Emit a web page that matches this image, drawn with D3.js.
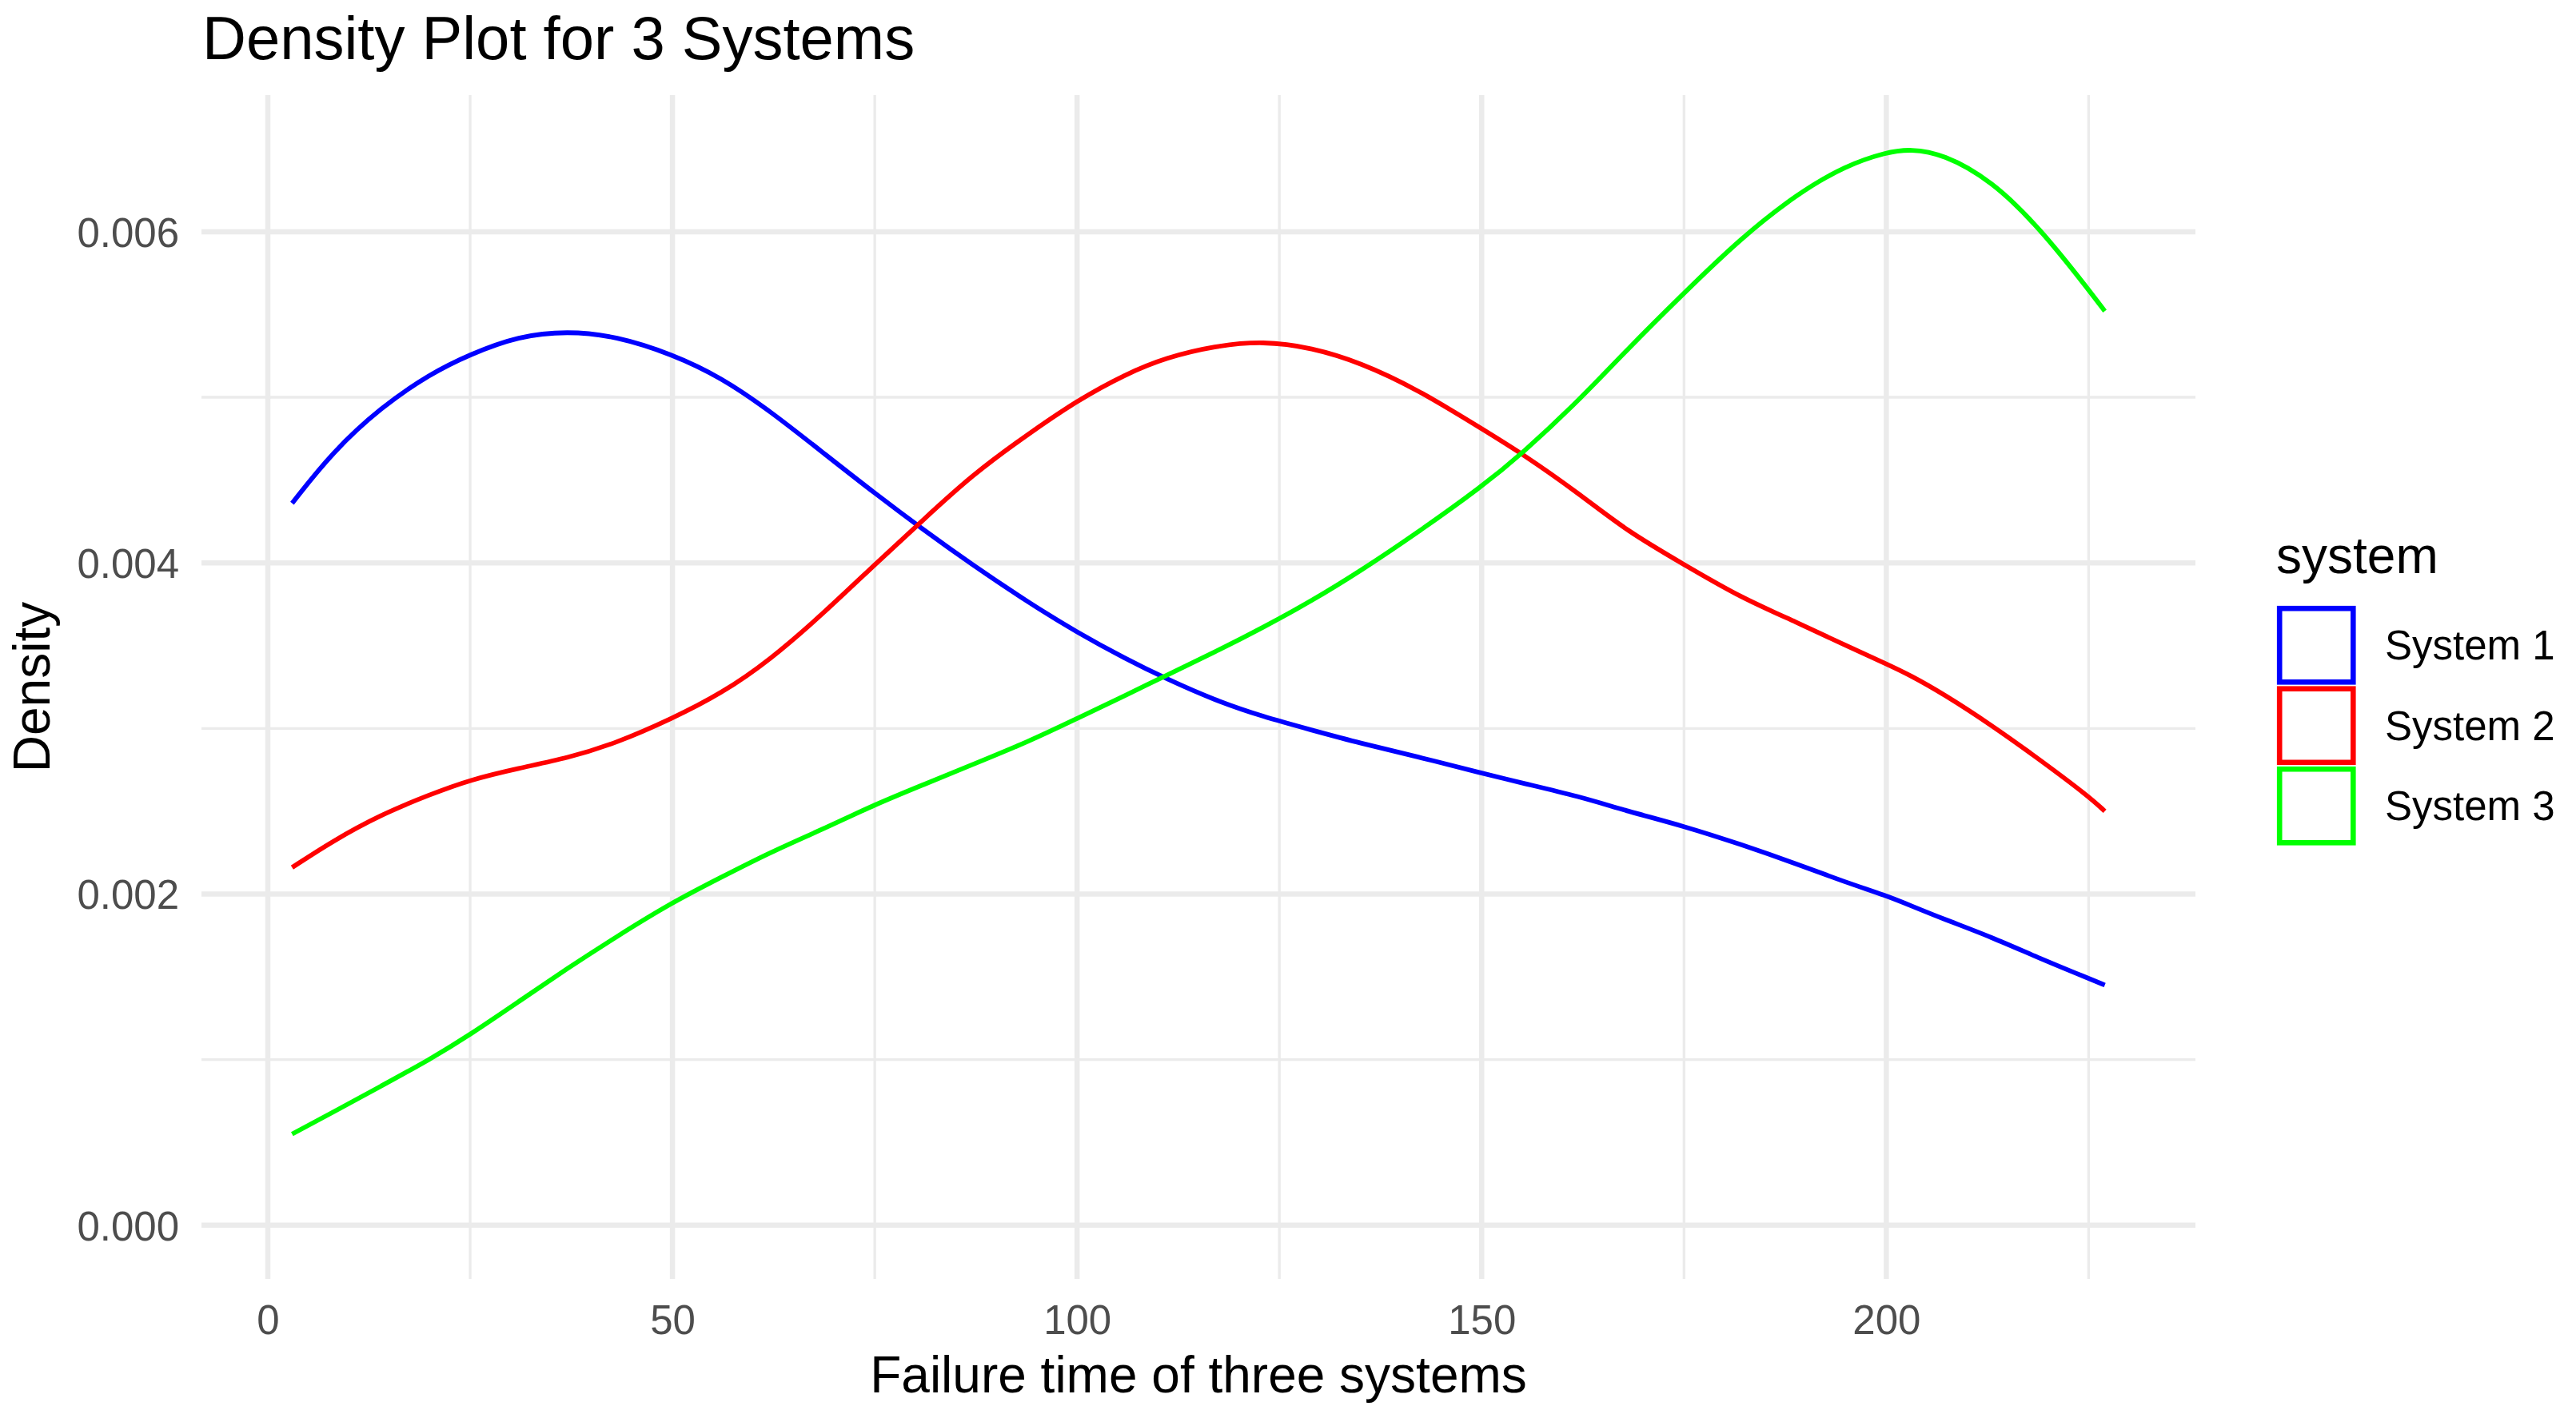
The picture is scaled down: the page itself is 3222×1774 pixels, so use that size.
<!DOCTYPE html>
<html>
<head>
<meta charset="utf-8">
<script src="https://cdn.jsdelivr.net/npm/d3@7"></script>
<style>
  html, body { margin: 0; padding: 0; background: #fff; }
  svg text { font-family: "Liberation Sans", Arial, Helvetica, sans-serif; }
</style>
</head>
<body>
<svg id="chart" width="3222" height="1774"></svg>
<script>
var failureTimes = [3, 8, 14, 20, 25, 31, 37, 43, 50, 56, 62, 69, 75, 81, 87, 94, 100,
    106, 111, 117, 123, 129, 135, 142, 150, 155, 162, 168, 175, 182, 189, 195, 200,
    203, 207, 213, 219, 225, 227];

var system1 = [0.00436, 0.00467, 0.00494, 0.00514, 0.00526, 0.00537, 0.00540, 0.00537,
    0.00526, 0.00512, 0.00492, 0.00465, 0.00442, 0.00420, 0.00399, 0.00376, 0.00358,
    0.00342, 0.00330, 0.00317, 0.00307, 0.00299, 0.00291, 0.00283, 0.00273, 0.00267,
    0.00259, 0.00250, 0.00241, 0.00230, 0.00218, 0.00207, 0.00199, 0.00193, 0.00185,
    0.00174, 0.00161, 0.00149, 0.00145];

var system2 = [0.00216, 0.00232, 0.00248, 0.00260, 0.00269, 0.00276, 0.00282, 0.00291,
    0.00306, 0.00321, 0.00341, 0.00371, 0.00399, 0.00426, 0.00453, 0.00478, 0.00498,
    0.00514, 0.00524, 0.00531, 0.00534, 0.00530, 0.00521, 0.00505, 0.00481, 0.00466,
    0.00442, 0.00419, 0.00399, 0.00379, 0.00364, 0.00350, 0.00339, 0.00332, 0.00321,
    0.00302, 0.00281, 0.00259, 0.00250];

var system3 = [0.00055, 0.00068, 0.00084, 0.00100, 0.00115, 0.00135, 0.00155, 0.00174,
    0.00195, 0.00210, 0.00225, 0.00240, 0.00254, 0.00266, 0.00278, 0.00292, 0.00306,
    0.00320, 0.00332, 0.00346, 0.00361, 0.00377, 0.00395, 0.00418, 0.00446, 0.00466,
    0.00498, 0.00529, 0.00563, 0.00596, 0.00623, 0.00640, 0.00648, 0.00650, 0.00647,
    0.00631, 0.00602, 0.00565, 0.00552];

var systemNames = ["System 1", "System 2", "System 3"];
var systemColors = ["#0000ff", "#ff0000", "#00ff00"];

var xMajorTicks = [0, 50, 100, 150, 200];
var xMinorTicks = [25, 75, 125, 175, 225];
var yMajorTicks = [0, 0.002, 0.004, 0.006];
var yMinorTicks = [0.001, 0.003, 0.005];

var titleText = "Density Plot for 3 Systems";
var xTitle = "Failure time of three systems";
var yTitle = "Density";
var legendTitle = "system";

window.onload = function(){
    var svg = d3.select("#chart");

    // Panel bounds in pixels.
    var panel = { left: 252, right: 2746, top: 119, bottom: 1600 };

    // ggplot style 5% expansion of the data ranges.
    var xExt = d3.extent(failureTimes);
    var xPad = (xExt[1] - xExt[0]) * 0.05;
    var yMax = d3.max(system1.concat(system2, system3));
    var yPad = yMax * 0.05;

    var x = d3.scaleLinear()
        .domain([xExt[0] - xPad, xExt[1] + xPad])
        .range([panel.left, panel.right]);
    var y = d3.scaleLinear()
        .domain([0 - yPad, yMax + yPad])
        .range([panel.bottom, panel.top]);

    var grid = svg.append("g").attr("class", "grid");

    // Minor grid lines first, then the major ones on top.
    grid.selectAll("line.xminor")
        .data(xMinorTicks)
        .enter().append("line")
        .attr("x1", function(d){ return x(d); })
        .attr("x2", function(d){ return x(d); })
        .attr("y1", panel.top).attr("y2", panel.bottom)
        .style("stroke", "#ebebeb").style("stroke-width", 3.3);

    grid.selectAll("line.yminor")
        .data(yMinorTicks)
        .enter().append("line")
        .attr("y1", function(d){ return y(d); })
        .attr("y2", function(d){ return y(d); })
        .attr("x1", panel.left).attr("x2", panel.right)
        .style("stroke", "#ebebeb").style("stroke-width", 3.3);

    grid.selectAll("line.xmajor")
        .data(xMajorTicks)
        .enter().append("line")
        .attr("x1", function(d){ return x(d); })
        .attr("x2", function(d){ return x(d); })
        .attr("y1", panel.top).attr("y2", panel.bottom)
        .style("stroke", "#ebebeb").style("stroke-width", 6.5);

    grid.selectAll("line.ymajor")
        .data(yMajorTicks)
        .enter().append("line")
        .attr("y1", function(d){ return y(d); })
        .attr("y2", function(d){ return y(d); })
        .attr("x1", panel.left).attr("x2", panel.right)
        .style("stroke", "#ebebeb").style("stroke-width", 6.5);

    // Axes: only tick labels, no domain line or tick marks.
    var xAxis = d3.axisBottom(x).tickValues(xMajorTicks).tickSize(0).tickPadding(0)
        .tickFormat(d3.format("d"));
    var gx = svg.append("g")
        .attr("transform", "translate(0," + panel.bottom + ")")
        .call(xAxis);
    gx.select(".domain").remove();
    gx.selectAll("text")
        .attr("y", 69).attr("dy", null)
        .style("font-size", "51px").style("fill", "#4d4d4d");

    var yAxis = d3.axisLeft(y).tickValues(yMajorTicks).tickSize(0).tickPadding(0)
        .tickFormat(d3.format(".3f"));
    var gy = svg.append("g")
        .attr("transform", "translate(224,0)")
        .call(yAxis);
    gy.select(".domain").remove();
    gy.selectAll("text")
        .attr("x", 0).attr("dy", "0.36em")
        .style("font-size", "51px").style("fill", "#4d4d4d");

    // Density curves, smoothed with a B-spline through the read-off points.
    var series = [system1, system2, system3];
    var line = d3.line()
        .x(function(d, i){ return x(failureTimes[i]); })
        .y(function(d){ return y(d); })
        .curve(d3.curveBasis);

    svg.append("g").selectAll("path")
        .data(series)
        .enter().append("path")
        .attr("d", line)
        .style("fill", "none")
        .style("stroke", function(d, i){ return systemColors[i]; })
        .style("stroke-width", 5.8)
        .style("stroke-linejoin", "round");

    // Titles.
    svg.append("text")
        .attr("x", 253).attr("y", 74)
        .style("font-size", "76px").style("fill", "#000")
        .text(titleText);

    svg.append("text")
        .attr("x", (panel.left + panel.right) / 2).attr("y", 1742)
        .attr("text-anchor", "middle")
        .style("font-size", "64px").style("fill", "#000")
        .text(xTitle);

    svg.append("text")
        .attr("transform", "translate(62," + ((panel.top + panel.bottom) / 2) + ") rotate(-90)")
        .attr("text-anchor", "middle")
        .style("font-size", "64px").style("fill", "#000")
        .text(yTitle);

    // Legend.
    var legend = svg.append("g").attr("transform", "translate(2847,0)");
    legend.append("text")
        .attr("x", 0).attr("y", 717)
        .style("font-size", "64px").style("fill", "#000")
        .text(legendTitle);

    var keyTop = 757, keySize = 100.5;
    var keys = legend.selectAll("g.key")
        .data(systemNames)
        .enter().append("g")
        .attr("transform", function(d, i){ return "translate(0," + (keyTop + i * keySize) + ")"; });

    keys.append("rect")
        .attr("x", 4.2).attr("y", 4.2)
        .attr("width", keySize - 8.4).attr("height", keySize - 8.4)
        .style("fill", "none")
        .style("stroke", function(d, i){ return systemColors[i]; })
        .style("stroke-width", 6.6);

    keys.append("text")
        .attr("x", 136).attr("y", keySize / 2 + 18)
        .style("font-size", "51px").style("fill", "#000")
        .text(function(d){ return d; });
}
</script>
</body>
</html>
